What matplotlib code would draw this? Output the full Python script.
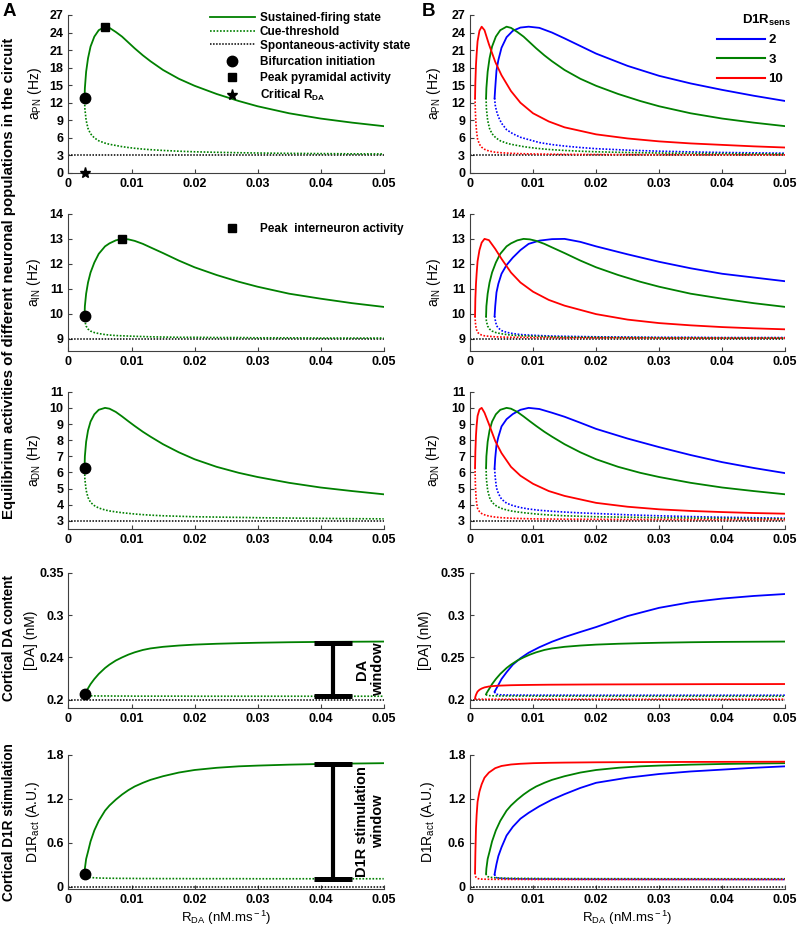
import matplotlib
matplotlib.use('Agg')
import matplotlib.pyplot as plt
import numpy as np
from matplotlib.lines import Line2D

# fonts: arial-like, mathtext in the same family
plt.rcParams['font.family'] = ['Liberation Sans', 'DejaVu Sans']
plt.rcParams['mathtext.fontset'] = 'custom'
plt.rcParams['mathtext.rm'] = 'Liberation Sans'
plt.rcParams['mathtext.it'] = 'Liberation Sans:italic'
plt.rcParams['mathtext.bf'] = 'Liberation Sans:bold'

# ---------------- data ----------------
# R_DA grids (nM/ms), one per D1R sensitivity, starting at the fold point
r_green = [0.00255, 0.0026, 0.0028, 0.0031, 0.0035, 0.0041, 0.0048, 0.0058, 0.0065, 0.0075, 0.0085, 0.0095,
           0.0105, 0.0118, 0.013, 0.015, 0.0175, 0.02, 0.0235, 0.027, 0.03, 0.035, 0.04, 0.045, 0.05]
r_blue = [0.0039, 0.004, 0.0042, 0.0045, 0.005, 0.0058, 0.0068, 0.008, 0.0093, 0.011, 0.013,
          0.015, 0.0175, 0.02, 0.025, 0.03, 0.035, 0.04, 0.045, 0.05]
r_red = [0.0008, 0.00085, 0.00095, 0.00105, 0.0012, 0.0015, 0.00185, 0.0023, 0.003, 0.004, 0.005,
         0.0065, 0.008, 0.01, 0.0125, 0.015, 0.02, 0.025, 0.03, 0.035, 0.04, 0.045, 0.05]
r_span = [0.0, 0.05]

# D1R_sens = 3 (green, also panel A)
pn_sus_green = [12.8, 14.5, 17.3, 19.6, 21.6, 23.3, 24.4, 25.0, 24.8, 24.1, 23.3, 22.3, 21.3, 20.1, 19.1, 17.6,
                16.1, 14.9, 13.5, 12.3, 11.4, 10.2, 9.3, 8.6, 8.0]
pn_cue_green = [12.8, 11.0, 9.0, 7.6, 6.7, 6.0, 5.5, 5.1, 4.9, 4.7, 4.5, 4.35, 4.22, 4.08, 3.98, 3.85,
                3.72, 3.62, 3.53, 3.46, 3.41, 3.35, 3.31, 3.27, 3.25]
in_sus_green = [9.9, 10.3, 10.8, 11.25, 11.65, 12.05, 12.4, 12.7, 12.82, 12.94, 13.0, 12.98, 12.92, 12.8, 12.66,
                12.43, 12.13, 11.86, 11.55, 11.28, 11.08, 10.8, 10.6, 10.42, 10.27]
in_cue_green = [9.9, 9.7, 9.5, 9.38, 9.3, 9.24, 9.2, 9.16, 9.14, 9.12, 9.11, 9.1, 9.09, 9.08, 9.07, 9.06,
                9.05, 9.05, 9.04, 9.04, 9.03, 9.03, 9.02, 9.02, 9.02]
dn_sus_green = [6.3, 7.0, 7.9, 8.6, 9.15, 9.6, 9.88, 10.0, 9.95, 9.75, 9.47, 9.17, 8.88, 8.52, 8.22, 7.75,
                7.25, 6.82, 6.35, 5.98, 5.72, 5.36, 5.07, 4.85, 4.65]
dn_cue_green = [6.3, 5.6, 4.9, 4.45, 4.15, 3.95, 3.8, 3.68, 3.62, 3.56, 3.51, 3.47, 3.43, 3.39, 3.36, 3.32,
                3.29, 3.26, 3.24, 3.22, 3.2, 3.18, 3.16, 3.14, 3.13]
da_sus_green = [0.2065, 0.2075, 0.21, 0.2135, 0.2185, 0.2245, 0.2305, 0.2375, 0.2415, 0.2463, 0.25, 0.2533,
                0.256, 0.2588, 0.2606, 0.2625, 0.264, 0.2651, 0.2661, 0.2668, 0.2673, 0.2679, 0.2683, 0.2685, 0.2687]
da_cue_green = [0.2065, 0.2058, 0.2052, 0.2049, 0.2047, 0.2046, 0.2045, 0.2045, 0.2045, 0.2044, 0.2044, 0.2044,
                0.2043, 0.2043, 0.2043, 0.2043, 0.2043, 0.2042, 0.2042, 0.2042, 0.2042, 0.2042, 0.2042, 0.2042, 0.2042]
d1r_sus_green = [0.18, 0.25, 0.38, 0.48, 0.62, 0.77, 0.9, 1.04, 1.11, 1.19, 1.26, 1.32, 1.37, 1.42, 1.46, 1.51,
                 1.56, 1.595, 1.625, 1.645, 1.655, 1.668, 1.677, 1.683, 1.688]
d1r_cue_green = [0.18, 0.155, 0.14, 0.132, 0.127, 0.123, 0.12, 0.118, 0.117, 0.116, 0.115, 0.115, 0.114, 0.113,
                 0.113, 0.112, 0.112, 0.111, 0.111, 0.111, 0.11, 0.11, 0.11, 0.11, 0.11]

# D1R_sens = 2 (blue)
pn_sus_blue = [12.8, 14.5, 17.5, 19.3, 21.4, 23.2, 24.3, 24.85, 25.0, 24.8, 24.0, 23.0, 21.7, 20.4, 18.3, 16.6, 15.3, 14.2, 13.2, 12.3]
pn_cue_blue = [12.8, 11.6, 10.6, 9.6, 8.5, 7.4, 6.7, 6.1, 5.7, 5.2, 4.85, 4.6, 4.35, 4.15, 3.9, 3.72, 3.6, 3.5, 3.44, 3.38]
in_sus_blue = [9.9, 10.3, 10.85, 11.2, 11.6, 11.95, 12.25, 12.55, 12.8, 12.93, 12.99, 13.0, 12.88, 12.7, 12.38, 12.08, 11.82, 11.6, 11.45, 11.3]
in_cue_blue = [9.9, 9.75, 9.52, 9.42, 9.32, 9.25, 9.2, 9.16, 9.14, 9.12, 9.1, 9.09, 9.08, 9.07, 9.06, 9.05, 9.05, 9.04, 9.04, 9.04]
dn_sus_blue = [6.25, 6.9, 7.7, 8.2, 8.85, 9.3, 9.62, 9.88, 10.0, 9.93, 9.7, 9.45, 9.08, 8.7, 8.1, 7.57, 7.08, 6.64, 6.28, 5.96]
dn_cue_blue = [6.25, 5.7, 5.05, 4.7, 4.35, 4.1, 3.95, 3.83, 3.74, 3.66, 3.6, 3.55, 3.5, 3.46, 3.38, 3.32, 3.27, 3.23, 3.2, 3.17]
da_sus_blue = [0.2095, 0.2108, 0.2135, 0.2175, 0.2245, 0.2325, 0.2415, 0.249, 0.2555, 0.262, 0.2685, 0.274, 0.28, 0.2858,
               0.2988, 0.3085, 0.3151, 0.3194, 0.3225, 0.3248]
da_cue_blue = [0.2095, 0.2075, 0.2066, 0.2061, 0.2058, 0.2057, 0.2056, 0.2056, 0.2055, 0.2055, 0.2055, 0.2055, 0.2054, 0.2054,
               0.2054, 0.2054, 0.2054, 0.2054, 0.2054, 0.2054]
d1r_sus_blue = [0.17, 0.22, 0.31, 0.42, 0.54, 0.7, 0.82, 0.93, 1.01, 1.1, 1.19, 1.265, 1.35, 1.42, 1.49, 1.54, 1.575, 1.6, 1.625, 1.645]
d1r_cue_blue = [0.17, 0.14, 0.125, 0.12, 0.115, 0.112, 0.11, 0.108, 0.107, 0.106, 0.105, 0.104, 0.103, 0.103, 0.102, 0.101, 0.101, 0.1, 0.1, 0.1]

# D1R_sens = 10 (red)
pn_sus_red = [12.8, 15.5, 18.5, 20.3, 22.5, 24.3, 25.0, 24.4, 22.0, 19.0, 16.7, 14.0, 12.0, 10.2, 8.8, 7.8, 6.6, 5.9, 5.4, 5.05, 4.8, 4.55, 4.35]
pn_cue_red = [12.8, 10.5, 8.3, 7.0, 5.8, 4.9, 4.4, 4.05, 3.75, 3.55, 3.45, 3.36, 3.3, 3.25, 3.21, 3.18, 3.15, 3.13, 3.12, 3.11, 3.1, 3.1, 3.09]
in_sus_red = [9.9, 10.6, 11.2, 11.6, 12.1, 12.55, 12.85, 13.0, 12.95, 12.6, 12.2, 11.65, 11.25, 10.88, 10.55, 10.32, 9.98, 9.76, 9.62, 9.53, 9.46, 9.41, 9.37]
in_cue_red = [9.9, 9.65, 9.45, 9.35, 9.25, 9.18, 9.14, 9.11, 9.09, 9.07, 9.06, 9.05, 9.05, 9.04, 9.04, 9.03, 9.03, 9.03, 9.02, 9.02, 9.02, 9.02, 9.02]
dn_sus_red = [6.3, 7.3, 8.3, 8.9, 9.5, 9.9, 10.0, 9.7, 9.0, 7.95, 7.2, 6.35, 5.8, 5.3, 4.85, 4.55, 4.12, 3.88, 3.72, 3.62, 3.55, 3.49, 3.45]
dn_cue_red = [6.3, 5.3, 4.5, 4.1, 3.78, 3.58, 3.46, 3.38, 3.3, 3.24, 3.2, 3.17, 3.15, 3.13, 3.12, 3.11, 3.1, 3.09, 3.09, 3.08, 3.08, 3.08, 3.08]
da_sus_red = [0.2015, 0.2035, 0.2058, 0.2075, 0.2097, 0.2118, 0.2133, 0.2146, 0.2157, 0.2164, 0.2168, 0.2172, 0.2174, 0.2176,
              0.2178, 0.2179, 0.2181, 0.2182, 0.2183, 0.2184, 0.2185, 0.2185, 0.2186]
da_cue_red = [0.2015, 0.2011, 0.2009, 0.2008, 0.2008, 0.2007, 0.2007, 0.2007, 0.2007, 0.2007, 0.2007, 0.2007, 0.2007, 0.2007,
              0.2007, 0.2007, 0.2007, 0.2007, 0.2007, 0.2007, 0.2007, 0.2007, 0.2007]
d1r_sus_red = [0.19, 0.45, 0.8, 0.98, 1.16, 1.3, 1.4, 1.49, 1.56, 1.62, 1.65, 1.67, 1.68, 1.688, 1.693, 1.696, 1.7, 1.702, 1.704,
               1.705, 1.706, 1.707, 1.708]
d1r_cue_red = [0.19, 0.15, 0.13, 0.12, 0.113, 0.108, 0.105, 0.104, 0.103, 0.102, 0.102, 0.101, 0.101, 0.1, 0.1, 0.1, 0.1, 0.1,
               0.1, 0.1, 0.1, 0.1, 0.1]

# spontaneous-activity levels per row
spont_levels = [3.0, 9.0, 3.0, 0.2, 0.0]

# DA / D1R windows in panel A
window_r = 0.042
da_window = [0.2045, 0.2668]
d1r_window = [0.11, 1.68]

sens_labels = ['2', '3', '10']
xtick_vals = [0, 0.01, 0.02, 0.03, 0.04, 0.05]
xtick_text = ['0', '0.01', '0.02', '0.03', '0.04', '0.05']

# ---------------- styling ----------------
green = '#008000'
blue = '#0000ff'
red = '#ff0000'
dot = (0, (1, 1))

ylims = [(0, 27), (8.5, 14), (2.5, 11), (0.19, 0.35), (-0.03, 1.8)]
yticks = [list(range(0, 28, 3)), list(range(9, 15)), list(range(3, 12)),
          [0.2, 0.25, 0.3, 0.35], [0, 0.6, 1.2, 1.8]]
ylabels = [r'a$_{\rm PN}$ (Hz)', r'a$_{\rm IN}$ (Hz)', r'a$_{\rm DN}$ (Hz)', '[DA] (nM)', r'D1R$_{\rm act}$ (A.U.)']
ylab_x_A = [-0.077, -0.08, -0.08, -0.098, -0.085]
ylab_x_B = [-0.086, -0.086, -0.089, -0.12, -0.105]

sus_g = [pn_sus_green, in_sus_green, dn_sus_green, da_sus_green, d1r_sus_green]
cue_g = [pn_cue_green, in_cue_green, dn_cue_green, da_cue_green, d1r_cue_green]
sus_b = [pn_sus_blue, in_sus_blue, dn_sus_blue, da_sus_blue, d1r_sus_blue]
cue_b = [pn_cue_blue, in_cue_blue, dn_cue_blue, da_cue_blue, d1r_cue_blue]
sus_r = [pn_sus_red, in_sus_red, dn_sus_red, da_sus_red, d1r_sus_red]
cue_r = [pn_cue_red, in_cue_red, dn_cue_red, da_cue_red, d1r_cue_red]

fig = plt.figure(figsize=(8, 9.36), dpi=100)

row_bottom = [0.8152, 0.625, 0.4348, 0.2433, 0.0502]
row_height = [0.1688, 0.1464, 0.1467, 0.1449, 0.1432]
left_x, right_x, ax_w = 0.0856, 0.5875, 0.394


def style_axes(ax, row, side):
    ax.set_xlim(r_span)
    ax.set_ylim(ylims[row])
    for s in ['top', 'right']:
        ax.spines[s].set_visible(False)
    for s in ['left', 'bottom']:
        ax.spines[s].set_color('#404040')
        ax.spines[s].set_linewidth(0.8)
    ax.tick_params(direction='in', length=3, width=0.8, pad=3.5, colors='#404040', labelcolor='black')
    ax.set_xticks(xtick_vals)
    ax.set_xticklabels(xtick_text, fontsize=9, fontweight='bold')
    ax.set_yticks(yticks[row])
    if row == 3 and side == 'A':
        ylab = ['0.2', '0.24', '0.3', '0.35']
    else:
        ylab = ['%g' % v for v in yticks[row]]
    ax.set_yticklabels(ylab, fontsize=9, fontweight='bold')
    ax.set_ylabel(ylabels[row], fontsize=10)
    if side == 'A':
        ax.yaxis.set_label_coords(ylab_x_A[row], 0.5)
    else:
        ax.yaxis.set_label_coords(ylab_x_B[row], 0.5)
    if row == 4:
        ax.set_xlabel(r'R$_{\rm DA}$ (nM.ms$^{\rm -1}$)', fontsize=9.5)
        ax.xaxis.set_label_coords(0.5, -0.15)


for row in range(5):
    # panel A: sens = 3 only, with markers
    axA = fig.add_axes([left_x, row_bottom[row], ax_w, row_height[row]])
    style_axes(axA, row, 'A')
    axA.plot(r_span, [spont_levels[row]] * 2, color='black', lw=1.1, ls=dot)
    axA.plot(r_green, cue_g[row], color=green, lw=1.2, ls=dot)
    axA.plot(r_green, sus_g[row], color=green, lw=1.3)
    axA.plot(r_green[0], sus_g[row][0], 'o', color='black', ms=7.5, clip_on=False, zorder=5)
    if row in (0, 1):
        ipk = int(np.argmax(sus_g[row]))
        axA.plot(r_green[ipk], sus_g[row][ipk], 's', color='black', ms=6, zorder=5)
    if row == 0:
        axA.plot(r_green[0], 0, '*', color='black', ms=8, clip_on=False, zorder=5)
    if row == 3:
        win = da_window
        txt = 'DA\nwindow'
    elif row == 4:
        win = d1r_window
        txt = 'D1R stimulation\nwindow'
    else:
        win = None
    if win is not None:
        axA.plot([window_r, window_r], win, color='black', lw=3, solid_capstyle='butt', zorder=6)
        axA.hlines(win, window_r - 0.003, window_r + 0.003, color='black', lw=3.6, zorder=6)
        axA.text(0.0479, (win[0] + win[1]) / 2, txt, rotation=90, ha='center', va='center',
                 fontsize=10.5, fontweight='bold', multialignment='center')

    # panel B: three sensitivities
    axB = fig.add_axes([right_x, row_bottom[row], ax_w, row_height[row]])
    style_axes(axB, row, 'B')
    axB.plot(r_span, [spont_levels[row]] * 2, color='black', lw=1.1, ls=dot)
    axB.plot(r_blue, cue_b[row], color=blue, lw=1.2, ls=dot)
    axB.plot(r_green, cue_g[row], color=green, lw=1.2, ls=dot)
    axB.plot(r_red, cue_r[row], color=red, lw=1.2, ls=dot)
    axB.plot(r_blue, sus_b[row], color=blue, lw=1.3)
    axB.plot(r_green, sus_g[row], color=green, lw=1.3)
    axB.plot(r_red, sus_r[row], color=red, lw=1.3)

    if row == 0:
        # line entries
        h1 = [Line2D([], [], color=green, lw=1.3),
              Line2D([], [], color=green, lw=1.2, ls=dot),
              Line2D([], [], color='black', lw=1.1, ls=dot)]
        l1 = ['Sustained-firing state', 'Cue-threshold', 'Spontaneous-activity state']
        leg1 = axA.legend(h1, l1, loc='upper left', bbox_to_anchor=(210 / 800, 1 - 12 / 936),
                          bbox_transform=fig.transFigure, frameon=False, handlelength=3.8, handletextpad=0.4,
                          labelspacing=0.15, borderpad=0, borderaxespad=0, prop={'weight': 'bold', 'size': 8.5})
        axA.add_artist(leg1)
        # marker entries
        h2 = [Line2D([], [], ls='none', marker='o', color='black', ms=7.5),
              Line2D([], [], ls='none', marker='s', color='black', ms=6),
              Line2D([], [], ls='none', marker='*', color='black', ms=8)]
        l2 = ['Bifurcation initiation', 'Peak pyramidal activity', r'Critical R$_{\bf DA}$']
        axA.legend(h2, l2, loc='upper left', bbox_to_anchor=(210 / 800, 1 - 56 / 936),
                   bbox_transform=fig.transFigure, frameon=False, handlelength=3.8, handletextpad=0.4,
                   labelspacing=0.33, borderpad=0, borderaxespad=0, prop={'weight': 'bold', 'size': 8.5})
        hb = [Line2D([], [], color=c, lw=1.5) for c in [blue, green, red]]
        axB.legend(hb, sens_labels, loc='upper left', bbox_to_anchor=(717 / 800, 1 - 34 / 936),
                   bbox_transform=fig.transFigure, frameon=False, handlelength=3.6, handletextpad=0.3,
                   labelspacing=0.55, borderpad=0, borderaxespad=0, prop={'weight': 'bold', 'size': 9.5})
        fig.text(742 / 800, 1 - 20 / 936, r'D1R$_{\bf sens}$', ha='left', va='center',
                 fontsize=9.5, fontweight='bold')
    if row == 1:
        hs = [Line2D([], [], ls='none', marker='s', color='black', ms=6)]
        axA.legend(hs, ['Peak  interneuron activity'], loc='upper left',
                   bbox_to_anchor=(210 / 800, 1 - 223 / 936), bbox_transform=fig.transFigure,
                   frameon=False, handlelength=3.8, handletextpad=0.4, borderpad=0, borderaxespad=0,
                   prop={'weight': 'bold', 'size': 8.5})

# side titles and panel letters
fig.text(9 / 800, 1 - 278 / 936, 'Equilibrium activities of different neuronal populations in the circuit',
         rotation=90, ha='center', va='center', fontsize=10.8, fontweight='bold')
fig.text(9 / 800, 1 - 638 / 936, 'Cortical DA content', rotation=90, ha='center', va='center',
         fontsize=9.8, fontweight='bold')
fig.text(9 / 800, 1 - 822 / 936, 'Cortical D1R stimulation', rotation=90, ha='center', va='center',
         fontsize=9.8, fontweight='bold')
fig.text(3 / 800, 1 - 11 / 936, 'A', ha='left', va='center', fontsize=13.5, fontweight='bold')
fig.text(422 / 800, 1 - 11 / 936, 'B', ha='left', va='center', fontsize=13.5, fontweight='bold')

plt.savefig('out.png', dpi=100)
